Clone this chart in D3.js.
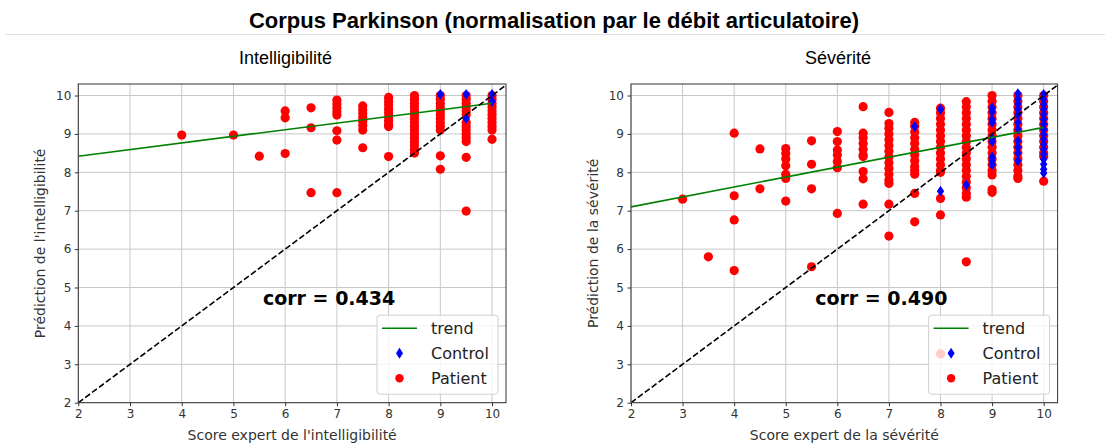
<!DOCTYPE html>
<html><head><meta charset="utf-8">
<script src="https://cdn.jsdelivr.net/npm/d3@7"></script>
<style>body{margin:0;background:#fff;} svg{display:block}</style>
</head><body><svg id="c" width="1105" height="443"></svg>
<script>
// ---------- DATA ----------
const figTitle = "Corpus Parkinson (normalisation par le débit articulatoire)";
const panelTitles = ["Intelligibilité", "Sévérité"];
const xLabels = ["Score expert de l'intelligibilité", "Score expert de la sévérité"];
const yLabels = ["Prédiction de l'intelligibilité", "Prédiction de la sévérité"];
const corrTexts = ["corr = 0.434", "corr = 0.490"];
const tickValues = [2, 3, 4, 5, 6, 7, 8, 9, 10];
const legendLabels = ["trend", "Control", "Patient"];

// Intelligibility panel: [expert score, [predictions]]
const intelPatient = [
  [4, [8.97]],
  [5, [8.97]],
  [5.5, [8.42]],
  [6, [9.6, 9.42, 8.49]],
  [6.5, [9.68, 9.16, 7.47]],
  [7, [9.88, 9.78, 9.68, 9.58, 9.49, 9.08, 8.84, 7.47]],
  [7.5, [9.73, 9.63, 9.53, 9.43, 9.33, 9.22, 9.1, 8.64]],
  [8, [9.95, 9.85, 9.75, 9.65, 9.55, 9.45, 9.35, 9.25, 9.19, 8.41]],
  [8.5, [10.0, 9.9, 9.8, 9.7, 9.6, 9.5, 9.4, 9.3, 9.2, 9.1, 9.0, 8.9, 8.8, 8.7, 8.6, 8.5]],
  [9, [10.0, 9.9, 9.8, 9.7, 9.6, 9.5, 9.4, 9.3, 9.2, 9.1, 8.43, 8.08]],
  [9.5, [10.0, 9.9, 9.8, 9.7, 9.6, 9.5, 9.3, 9.2, 9.1, 9.0, 8.9, 8.8, 8.39, 6.99]],
  [10, [10.0, 9.9, 9.8, 9.7, 9.6, 9.5, 9.4, 9.3, 9.2, 9.1, 8.86]]
];
const intelControl = [
  [9, [10.03]],
  [9.5, [10.03, 9.4]],
  [10, [10.03, 9.85]]
];
const intelTrend = [[2, 8.42], [10, 9.80]];

// Severity panel
const sevPatient = [
  [3, [7.3]],
  [3.5, [5.8]],
  [4, [9.02, 7.39, 6.76, 5.44]],
  [4.5, [8.61, 7.57]],
  [5, [8.62, 8.49, 8.35, 8.17, 7.95, 7.84, 7.25]],
  [5.5, [8.82, 8.21, 7.57, 5.54]],
  [6, [9.06, 8.8, 8.58, 8.45, 8.28, 8.12, 6.93]],
  [6.5, [9.71, 9.02, 8.9, 8.75, 8.6, 8.45, 8.41, 8.02, 7.83, 7.17]],
  [7, [9.56, 9.27, 9.15, 9.0, 8.85, 8.7, 8.55, 8.4, 8.25, 8.1, 7.95, 7.8, 7.71, 7.17, 6.34]],
  [7.5, [9.3, 9.2, 9.05, 8.9, 8.75, 8.6, 8.45, 8.3, 8.15, 8.05, 7.95, 7.45, 6.71]],
  [8, [9.67, 9.55, 9.4, 9.25, 9.1, 8.95, 8.8, 8.65, 8.5, 8.35, 8.2, 8.05, 8.0, 7.32, 6.89, 3.27]],
  [8.5, [9.84, 9.7, 9.55, 9.4, 9.25, 9.1, 8.95, 8.8, 8.65, 8.5, 8.35, 8.2, 8.05, 7.9, 7.75, 7.6, 7.45, 7.35, 5.67]],
  [9, [10.0, 9.85, 9.7, 9.55, 9.4, 9.25, 9.1, 8.95, 8.8, 8.65, 8.5, 8.35, 8.2, 8.05, 7.93, 7.55, 7.48]],
  [9.5, [10.0, 9.85, 9.7, 9.55, 9.4, 9.25, 9.1, 8.95, 8.8, 8.65, 8.5, 8.35, 8.2, 8.05, 7.9, 7.84]],
  [10, [10.0, 9.85, 9.7, 9.55, 9.4, 9.25, 9.1, 8.95, 8.8, 8.65, 8.5, 8.41, 7.77]]
];
const sevControl = [
  [7.5, [9.19]],
  [8, [9.64, 7.51]],
  [8.5, [7.67]],
  [9, [9.68, 9.58, 9.38, 9.3, 8.88, 8.8, 8.4, 8.3, 8.2]],
  [9.5, [10.05, 9.9, 9.78, 9.65, 9.5, 9.3, 9.12, 8.82, 8.65, 8.5, 8.3]],
  [10, [10.03, 9.9, 9.77, 9.64, 9.51, 9.38, 9.25, 9.12, 8.99, 8.86, 8.73, 8.6, 8.47, 8.34, 8.21, 8.08, 7.98]]
];
const sevTrend = [[2, 7.10], [10, 9.17]];

// ---------- DRAW ----------
const svg = d3.select("#c");
const tickFont = "'DejaVu Sans', sans-serif";

svg.append("text").attr("x", 554).attr("y", 28).attr("text-anchor", "middle")
  .attr("font-family", "'Liberation Sans', Arial, sans-serif").attr("font-weight", "bold")
  .attr("font-size", 22).attr("fill", "#000").text(figTitle);
svg.append("line").attr("x1", 5).attr("x2", 1105).attr("y1", 34.5).attr("y2", 34.5)
  .attr("stroke", "#e0e0e0").attr("stroke-width", 1);

const flat = arr => arr.flatMap(([x, ys]) => ys.map(y => ({x, y})));

const panels = [
  {left: 78.3, right: 506, titleX: 285.5, patient: intelPatient, control: intelControl, trend: intelTrend},
  {left: 631, right: 1057.6, titleX: 838, patient: sevPatient, control: sevControl, trend: sevTrend}
];
const axTop = 84, axBottom = 402.7;

panels.forEach((p, i) => {
  const x = d3.scaleLinear().domain([2, 10.27]).range([p.left, p.right]);
  const y = d3.scaleLinear().domain([2, 10.3]).range([axBottom, axTop]);
  const g = svg.append("g");
  const clipId = "clip" + i;
  svg.append("clipPath").attr("id", clipId).append("rect")
    .attr("x", p.left).attr("y", axTop).attr("width", p.right - p.left).attr("height", axBottom - axTop);

  svg.append("text").attr("x", p.titleX).attr("y", 63.5).attr("text-anchor", "middle")
    .attr("font-family", "'Liberation Sans', Arial, sans-serif").attr("font-size", 18)
    .attr("fill", "#000").text(panelTitles[i]);

  // grid
  const grid = g.append("g");
  tickValues.forEach(v => {
    grid.append("line").attr("x1", x(v)).attr("x2", x(v)).attr("y1", axTop).attr("y2", axBottom)
      .attr("stroke", "#c8c8c8").attr("stroke-width", 1);
    grid.append("line").attr("x1", p.left).attr("x2", p.right).attr("y1", y(v)).attr("y2", y(v))
      .attr("stroke", "#c8c8c8").attr("stroke-width", 1);
  });

  const pts = g.append("g").attr("clip-path", `url(#${clipId})`);
  pts.selectAll("circle").data(flat(p.patient)).join("circle")
    .attr("cx", d => x(d.x)).attr("cy", d => y(d.y)).attr("r", 4.6).attr("fill", "#ff0000");
  const dia = (cx, cy) => `M${cx},${cy - 5.4} L${cx + 3.7},${cy} L${cx},${cy + 5.4} L${cx - 3.7},${cy} Z`;
  pts.selectAll("path.ctl").data(flat(p.control)).join("path").attr("class", "ctl")
    .attr("d", d => dia(x(d.x), y(d.y))).attr("fill", "#0000ff");

  // trend
  pts.append("path").attr("d", d3.line().x(d => x(d[0])).y(d => y(d[1]))(p.trend))
    .attr("stroke", "#008000").attr("stroke-width", 1.6).attr("fill", "none");
  // diagonal
  pts.append("path").attr("d", d3.line().x(d => x(d)).y(d => y(d))([2, 10.3]))
    .attr("stroke", "#000").attr("stroke-width", 1.6).attr("stroke-dasharray", "6,2.6").attr("fill", "none");

  // axes
  const ax = g.append("g").attr("transform", `translate(0,${axBottom})`)
    .call(d3.axisBottom(x).tickValues(tickValues).tickFormat(d3.format("d")).tickSize(3.5).tickPadding(3.5));
  const ay = g.append("g").attr("transform", `translate(${p.left},0)`)
    .call(d3.axisLeft(y).tickValues(tickValues).tickFormat(d3.format("d")).tickSize(3.5).tickPadding(3.5));
  [ax, ay].forEach(a => {
    a.select(".domain").remove();
    a.selectAll("line").attr("stroke", "#333");
    a.selectAll("text").attr("font-family", tickFont).attr("font-size", 12).attr("fill", "#333");
  });
  g.append("rect").attr("x", p.left).attr("y", axTop).attr("width", p.right - p.left).attr("height", axBottom - axTop)
    .attr("fill", "none").attr("stroke", "#333").attr("stroke-width", 1);

  // labels
  g.append("text").attr("x", (p.left + p.right) / 2).attr("y", 440).attr("text-anchor", "middle")
    .attr("font-family", tickFont).attr("font-size", 14).attr("fill", "#333").text(xLabels[i]);
  g.append("text").attr("transform", `translate(${p.left - 33},${(axTop + axBottom) / 2}) rotate(-90)`)
    .attr("text-anchor", "middle").attr("font-family", tickFont).attr("font-size", 14)
    .attr("fill", "#333").text(yLabels[i]);

  // corr text
  g.append("text").attr("x", x(5.57)).attr("y", y(4.55)).attr("font-family", tickFont)
    .attr("font-weight", "bold").attr("font-size", 19).attr("fill", "#000").text(corrTexts[i]);

  // legend
  const lw = 121, lh = 79;
  const lx = p.right - 8 - lw, ly = axBottom - 8.5 - lh;
  const lg = g.append("g").attr("transform", `translate(${lx},${ly})`);
  lg.append("rect").attr("width", lw).attr("height", lh).attr("rx", 3)
    .attr("fill", "#fff").attr("fill-opacity", 0.8).attr("stroke", "#d0d0d0").attr("stroke-width", 1);
  const rows = [13, 38, 63];
  lg.append("line").attr("x1", 5).attr("x2", 40).attr("y1", rows[0]).attr("y2", rows[0])
    .attr("stroke", "#008000").attr("stroke-width", 1.6);
  lg.append("path").attr("d", `M22.5,${rows[1] - 5.5} L26,${rows[1]} L22.5,${rows[1] + 5.5} L19,${rows[1]} Z`).attr("fill", "#0000ff");
  lg.append("circle").attr("cx", 22.5).attr("cy", rows[2]).attr("r", 4.2).attr("fill", "#ff0000");
  legendLabels.forEach((t, k) => {
    lg.append("text").attr("x", 54).attr("y", rows[k]).attr("dy", "0.35em")
      .attr("font-family", tickFont).attr("font-size", 16).attr("fill", "#222").text(t);
  });
});
</script></body></html>
